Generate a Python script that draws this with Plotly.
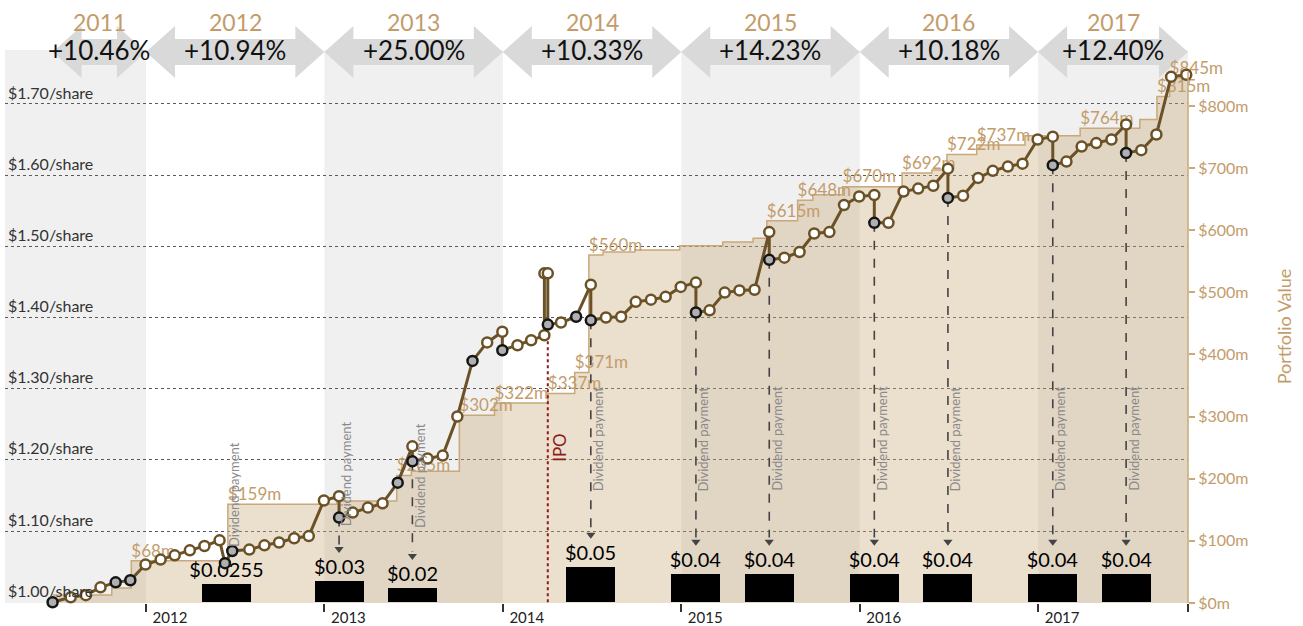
import plotly.graph_objects as go
import pandas as pd

# ------------------------------------------------------------------ data
years = [2011, 2012, 2013, 2014, 2015, 2016, 2017]
year_returns = ["+10.46%", "+10.94%", "+25.00%", "+10.33%", "+14.23%", "+10.18%", "+12.40%"]

price_dates = [
    "2011-06-24", "2011-07-31", "2011-08-31", "2011-09-30", "2011-10-31", "2011-11-30", "2011-12-31",
    "2012-01-31", "2012-02-29", "2012-03-31", "2012-04-30", "2012-05-31", "2012-06-11", "2012-06-26",
    "2012-07-31", "2012-08-31", "2012-09-30", "2012-10-31", "2012-11-30", "2012-12-31",
    "2013-01-31", "2013-01-31", "2013-02-28", "2013-03-31", "2013-04-30", "2013-05-31", "2013-06-30",
    "2013-06-30", "2013-07-31", "2013-08-31", "2013-09-30", "2013-10-31", "2013-11-30", "2013-12-31",
    "2013-12-31",
    "2014-01-31", "2014-02-28", "2014-03-27", "2014-03-27", "2014-04-03", "2014-04-03", "2014-04-30",
    "2014-05-31", "2014-06-30", "2014-06-30", "2014-07-31", "2014-08-31", "2014-09-30", "2014-10-31",
    "2014-11-30", "2014-12-31",
    "2015-01-31", "2015-01-31", "2015-02-28", "2015-03-31", "2015-04-30", "2015-05-31", "2015-06-30",
    "2015-06-30", "2015-07-31", "2015-08-31", "2015-09-30", "2015-10-31", "2015-11-30", "2015-12-31",
    "2016-01-31", "2016-01-31", "2016-02-29", "2016-03-31", "2016-04-30", "2016-05-31", "2016-06-30",
    "2016-06-30", "2016-07-31", "2016-08-31", "2016-09-30", "2016-10-31", "2016-11-30", "2016-12-31",
    "2017-01-31", "2017-01-31", "2017-02-28", "2017-03-31", "2017-04-30", "2017-05-31", "2017-06-30",
    "2017-06-30", "2017-07-31", "2017-08-31", "2017-09-30", "2017-10-31",
]
share_price = [
    1.000, 1.007, 1.010, 1.021, 1.028, 1.031, 1.053,
    1.060, 1.066, 1.073, 1.079, 1.087, 1.055, 1.072, 1.074, 1.080, 1.084, 1.090, 1.093, 1.143,
    1.149, 1.119, 1.126, 1.133, 1.139, 1.168, 1.219, 1.198, 1.202, 1.206, 1.261, 1.339, 1.365, 1.380,
    1.354,
    1.361, 1.368, 1.375, 1.462, 1.462, 1.390, 1.393, 1.401, 1.446, 1.396, 1.400, 1.401, 1.422, 1.425,
    1.429, 1.443,
    1.449, 1.407, 1.410, 1.435, 1.438, 1.439, 1.520, 1.481, 1.484, 1.492, 1.518, 1.520, 1.558, 1.570,
    1.572, 1.533, 1.533, 1.577, 1.581, 1.585, 1.609, 1.568, 1.571, 1.596, 1.606, 1.612, 1.616, 1.650,
    1.654, 1.614, 1.619, 1.640, 1.645, 1.650, 1.671, 1.631, 1.635, 1.657, 1.738, 1.741,
]
# 'g' = event point (grey marker), 'o' = regular month-end point
price_kind = list("goooggo") + list("oooooggoooooo") + list("ogooogogooogoog") + \
    list("ooooogogogoooooo") + list("ogooooogoooooo") + list("ogooooogoooooo") + list("ogooooogoooo")

value_dates = [
    "2011-06-24", "2011-10-23", "2011-12-02", "2012-06-17", "2013-01-26", "2013-05-29", "2013-06-28",
    "2013-10-04", "2013-12-15", "2014-04-03", "2014-05-28", "2014-06-26", "2014-07-25", "2014-09-28",
    "2014-12-29", "2015-03-27", "2015-05-28", "2015-06-25", "2015-08-27", "2015-09-27", "2015-11-27",
    "2016-03-28", "2016-05-28", "2016-06-28", "2016-08-28", "2016-12-05", "2017-03-28", "2017-07-28",
    "2017-09-01", "2017-09-27",
]
portfolio_musd = [13, 24, 68, 159, 164, 205, 212, 302, 322, 337, 371, 560, 565, 568, 575, 581, 587,
                  615, 648, 657, 670, 692, 697, 722, 737, 752, 764, 778, 815, 845]
value_labeled = [0, 0, 1, 1, 0, 1, 0, 1, 1, 1, 1, 1, 0, 0, 0, 0, 0,
                 1, 1, 0, 1, 1, 0, 1, 1, 0, 1, 0, 1, 1]

div_dates = ["2012-06-15", "2013-01-31", "2013-06-30", "2014-06-30", "2015-01-31",
             "2015-06-30", "2016-01-31", "2016-06-30", "2017-01-31", "2017-06-30"]
div_per_share = [0.0255, 0.03, 0.02, 0.05, 0.04, 0.04, 0.04, 0.04, 0.04, 0.04]

ipo_date = "2014-04-03"
base_price = 1.00

price_ticks = [1.00, 1.10, 1.20, 1.30, 1.40, 1.50, 1.60, 1.70]
value_ticks = [0, 100, 200, 300, 400, 500, 600, 700, 800]

assert len(price_dates) == len(share_price) == len(price_kind)
assert len(value_dates) == len(portfolio_musd) == len(value_labeled)

# ------------------------------------------------------------------ style / layout
W, H = 1303, 626
ML, MR, MT, MB = 5, 115, 50, 23
PLOT_W, PLOT_H = W - ML - MR, H - MT - MB
X_RANGE = [2011.21, 2017.84]
PX_PER_YR = PLOT_W / (X_RANGE[1] - X_RANGE[0])
Y_PRICE_RANGE = [0.999, 1.7757]
Y_VALUE_RANGE = [0, 890]

FONT = "Lato"
BROWN = "#6b5226"
TAN_TEXT = "#c39c6a"
TAN_LINE = "#c9a87a"
AREA_FILL = "rgba(200,166,118,0.36)"
BAND = "#f0f0f0"
ARROW = "#d9d9d9"
IPO_RED = "#8e1b1b"
DASH_GREY = "#444444"

# dividend note vertical centres (share-price units)
div_note_y = [1.152, 1.180, 1.178, 1.23, 1.23, 1.23, 1.23, 1.23, 1.23, 1.23]
TIP_GAP = 0.045
BAR_W = 0.275


def dec_year(s):
    t = pd.Timestamp(s)
    y0 = pd.Timestamp(year=t.year, month=1, day=1)
    y1 = pd.Timestamp(year=t.year + 1, month=1, day=1)
    return t.year + (t - y0) / (y1 - y0)


def paper_y(py):
    return (H - MB - py) / PLOT_H


fig = go.Figure()

# portfolio value step area (right axis, base subplot)
vx = [dec_year(d) for d in value_dates] + [X_RANGE[1]]
vy = portfolio_musd + [portfolio_musd[-1]]
fig.add_trace(go.Scatter(
    x=vx, y=vy, mode="lines", yaxis="y",
    line=dict(shape="hv", color=TAN_LINE, width=1.5),
    fill="tozeroy", fillcolor=AREA_FILL, hoverinfo="skip"))

lab_x = [dec_year(d) for d, f in zip(value_dates, value_labeled) if f]
lab_y = [v for v, f in zip(portfolio_musd, value_labeled) if f]
fig.add_trace(go.Scatter(
    x=lab_x, y=lab_y, mode="text", yaxis="y",
    text=[f"${v}m" for v in lab_y], textposition="top right",
    textfont=dict(size=17, color=TAN_TEXT, family=FONT), cliponaxis=False, hoverinfo="skip"))

# dividend bars (share-price axis, base = starting price)
dx = [dec_year(d) for d in div_dates]
fig.add_trace(go.Bar(
    x=dx, y=div_per_share, base=base_price, width=BAR_W, yaxis="y2",
    marker=dict(color="black", line=dict(width=0)),
    text=[f"${a:g}" for a in div_per_share], textposition="outside",
    textfont=dict(size=20, color="black", family=FONT),
    constraintext="none", cliponaxis=False, hoverinfo="skip"))

# dashed dividend arrows from ex-dividend point down to the label
pxs = [dec_year(d) for d in price_dates]
lx, ly, tipx, tipy = [], [], [], []
for d, x, a in zip(div_dates, dx, div_per_share):
    same = [p for pd_, p in zip(price_dates, share_price) if pd_ == d]
    tip = base_price + a + TIP_GAP
    if same and min(same) > tip:
        lx += [x, x, None]
        ly += [min(same), tip + 0.006, None]
        tipx.append(x)
        tipy.append(tip)
fig.add_trace(go.Scatter(
    x=lx, y=ly, mode="lines", yaxis="y2",
    line=dict(color=DASH_GREY, width=1.6, dash="dash"), hoverinfo="skip"))
fig.add_trace(go.Scatter(
    x=tipx, y=tipy, mode="markers", yaxis="y2",
    marker=dict(symbol="triangle-down", size=8, color=DASH_GREY), hoverinfo="skip"))

# IPO dotted line
ipo_x = dec_year(ipo_date)
pre = [(d, p) for d, p in zip(price_dates, share_price) if d < ipo_date]
last_pre_date = pre[-1][0]
ipo_top = min(p for d, p in pre if d == last_pre_date)
fig.add_trace(go.Scatter(
    x=[ipo_x, ipo_x], y=[base_price, ipo_top], mode="lines", yaxis="y2",
    line=dict(color=IPO_RED, width=2, dash="dot"), hoverinfo="skip"))

# share price line
fig.add_trace(go.Scatter(
    x=pxs, y=share_price, mode="lines+markers", yaxis="y2",
    line=dict(color=BROWN, width=3),
    marker=dict(size=10,
                color=["#b0b0b0" if k == "g" else "white" for k in price_kind],
                line=dict(color=["#151515" if k == "g" else BROWN for k in price_kind], width=2.5)),
    cliponaxis=False, hoverinfo="skip"))

shapes = []
annotations = []
first_x = pxs[0]
# alternating year bands
for i, y in enumerate(years):
    if i % 2 == 0:
        shapes.append(dict(type="rect", xref="x", yref="paper",
                           x0=max(y, X_RANGE[0]), x1=min(y + 1, X_RANGE[1]), y0=0, y1=1,
                           fillcolor=BAND, line=dict(width=0), layer="below"))
# header double arrows
YC, HEAD_HALF, SHAFT_HALF, HEAD_LEN = 52, 26, 13, 29
yc, yt, yb = paper_y(YC), paper_y(YC - HEAD_HALF), paper_y(YC + HEAD_HALF)
st, sb = paper_y(YC - SHAFT_HALF), paper_y(YC + SHAFT_HALF)
h = HEAD_LEN / PX_PER_YR
for y, ret in zip(years, year_returns):
    x0 = max(y, first_x)
    x1 = min(y + 1, X_RANGE[1])
    path = (f"M{x0},{yc} L{x0 + h},{yt} L{x0 + h},{st} L{x1 - h},{st} L{x1 - h},{yt} "
            f"L{x1},{yc} L{x1 - h},{yb} L{x1 - h},{sb} L{x0 + h},{sb} L{x0 + h},{yb} Z")
    shapes.append(dict(type="path", xref="x", yref="paper", path=path,
                       fillcolor=ARROW, line=dict(width=0), layer="below"))
    xm = (x0 + x1) / 2
    annotations.append(dict(x=xm, y=paper_y(22), xref="x", yref="paper", text=str(y),
                            xanchor="center", yanchor="middle", showarrow=False,
                            font=dict(size=23, color=TAN_TEXT, family=FONT)))
    annotations.append(dict(x=xm, y=paper_y(50), xref="x", yref="paper", text=ret,
                            xanchor="center", yanchor="middle", showarrow=False,
                            font=dict(size=26, color="#111111", family=FONT)))

# right axis line (stops below the header)
shapes.append(dict(type="line", xref="paper", yref="paper", x0=1, x1=1, y0=0, y1=paper_y(72),
                   line=dict(color=TAN_LINE, width=1.5)))

# dividend notes
for x, ny in zip(dx, div_note_y):
    annotations.append(dict(x=x, y=ny, xref="x", yref="y2", text="Dividend payment",
                            textangle=-90, showarrow=False, xshift=7,
                            xanchor="center", yanchor="middle",
                            font=dict(size=13, color="#8a8a8a", family=FONT)))
annotations.append(dict(x=ipo_x, y=1.218, xref="x", yref="y2", text="IPO", textangle=-90,
                        showarrow=False, xshift=11, xanchor="center", yanchor="middle",
                        font=dict(size=17, color=IPO_RED, family=FONT)))

fig.update_layout(
    width=W, height=H, margin=dict(l=ML, r=MR, t=MT, b=MB, autoexpand=False),
    paper_bgcolor="white", plot_bgcolor="white",
    font=dict(family=FONT, color="#333333"),
    showlegend=False, hovermode=False, bargap=0,
    shapes=shapes, annotations=annotations,
    xaxis=dict(range=X_RANGE, tickvals=years[1:] + [X_RANGE[1]],
               ticktext=[str(y) for y in years[1:]] + [""],
               ticks="outside", ticklen=8, tickwidth=1.5, tickcolor="#333333",
               showgrid=False, zeroline=False, showline=False, automargin=False,
               tickfont=dict(size=15, color="#222222"), ticklabelshift=24,
               ticklabelstandoff=-7),
    yaxis=dict(range=Y_VALUE_RANGE, side="right", tickvals=value_ticks,
               ticktext=[f"${v}m" for v in value_ticks],
               ticks="outside", ticklen=6, tickwidth=1.5, tickcolor=TAN_LINE,
               tickfont=dict(size=16, color=TAN_TEXT), automargin=False,
               showline=False, showgrid=False, zeroline=False,
               title=dict(text="Portfolio Value", font=dict(size=18, color=TAN_TEXT), standoff=30)),
    yaxis2=dict(range=Y_PRICE_RANGE, overlaying="y", side="left", tickvals=price_ticks,
                ticktext=[f"${v:.2f}/share" for v in price_ticks],
                ticklabelposition="inside", ticklabelshift=-11, ticks="",
                showgrid=True, gridcolor="#5a5a5a", griddash="dot", gridwidth=1,
                zeroline=False, showline=False, automargin=False,
                tickfont=dict(size=16, color="#333333")),
)

fig.write_html("out.html", config={"displayModeBar": False},
               post_script="document.body.style.margin='0px';")
